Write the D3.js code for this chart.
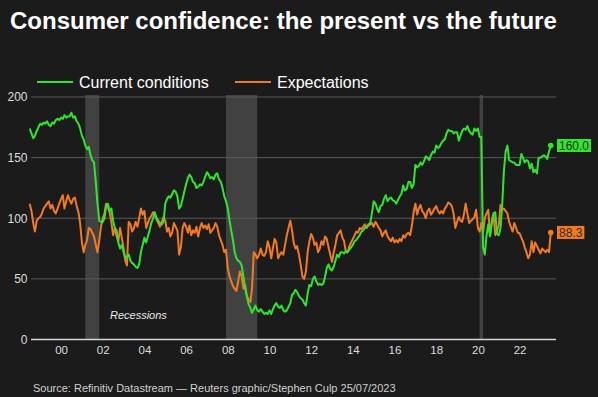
<!DOCTYPE html>
<html>
<head>
<meta charset="utf-8">
<script src="https://cdn.jsdelivr.net/npm/d3@7"></script>
<style>
  html, body { margin: 0; padding: 0; background: #1b1b1b; }
  svg { display: block; }
</style>
</head>
<body>
<svg id="chart" width="598" height="397"></svg>
<script>
// ---------- DATA ----------
const titleText = "Consumer confidence: the present vs the future";
const sourceText = "Source: Refinitiv Datastream \u2014 Reuters graphic/Stephen Culp 25/07/2023";
const seriesNames = ["Current conditions", "Expectations"];
const firstMonth = "1998-07"; // monthly series, Jul 1998 .. Jul 2023

const currentConditions = [
  // 1998 Jul-Dec
  174, 170, 166, 168, 172, 175,
  // 1999
  178, 177, 179, 178, 180, 177, 176, 179, 178, 181, 182, 181,
  // 2000
  183, 182, 185, 183, 184, 184, 187, 183, 184, 180, 178, 174,
  // 2001
  168, 165, 160, 157, 159, 152, 148, 146, 130, 112, 98, 97,
  // 2002
  97, 100, 110, 112, 106, 108, 98, 92, 90, 80, 75, 78,
  // 2003
  72, 67, 68, 70, 65, 63, 62, 60, 59, 62, 72, 78,
  // 2004
  84, 80, 85, 90, 96, 100, 105, 100, 98, 96, 95, 97,
  // 2005
  112, 116, 118, 117, 120, 123, 122, 118, 108, 110, 116, 122,
  // 2006
  128, 133, 136, 134, 130, 129, 125, 126, 128, 127, 130, 134,
  // 2007
  138, 136, 133, 134, 132, 136, 137, 132, 130, 125, 118, 114,
  // 2008
  108, 98, 90, 82, 72, 67, 65, 64, 61, 52, 42, 35,
  // 2009
  29, 26, 22, 25, 28, 24, 23, 25, 23, 21, 22, 21,
  // 2010
  24, 21, 25, 28, 30, 27, 26, 28, 24, 23, 24, 27,
  // 2011
  30, 37, 38, 41, 39, 36, 34, 33, 30, 28, 38, 45,
  // 2012
  44, 50, 52, 48, 45, 46, 45, 46, 52, 59, 62, 58,
  // 2013
  57, 60, 65, 70, 68, 72, 72, 71, 73, 72, 74, 76,
  // 2014
  78, 81, 82, 84, 86, 89, 90, 92, 93, 95, 96, 104,
  // 2015
  114, 112, 108, 105, 110, 111, 116, 119, 114, 116, 117, 115,
  // 2016
  114, 112, 115, 118, 120, 127, 123, 124, 130, 130, 125, 128,
  // 2017
  144, 142, 143, 146, 144, 147, 151, 150, 148, 152, 155, 154,
  // 2018
  160, 158, 159, 162, 164, 165, 170, 173, 172, 172, 170, 171,
  // 2019
  171, 164, 168, 172, 174, 173, 176, 172, 170, 169, 174, 172,
  // 2020
  174, 167, 167, 76, 70, 86, 95, 85, 98, 104, 105, 87,
  // 2021
  86, 92, 110, 139, 155, 160, 148, 147, 146, 146, 144, 144,
  // 2022
  144, 153, 150, 146, 148, 147, 141, 145, 138, 140, 137, 150,
  // 2023 Jan-Jul
  150, 151, 152, 151, 149, 155, 160.0
];

const expectations = [
  // 1998 Jul-Dec
  112, 106, 96, 89, 98, 100,
  // 1999
  101, 104, 108, 110, 112, 114, 108, 111, 106, 104, 108, 112,
  // 2000
  116, 119, 108, 114, 119, 115, 112, 116, 117, 110, 105, 96,
  // 2001
  80, 72, 78, 82, 92, 91, 88, 85, 78, 72, 82, 93,
  // 2002
  100, 104, 112, 109, 105, 97, 86, 92, 85, 81, 92, 84,
  // 2003
  75, 65, 61, 97, 95, 89, 92, 97, 93, 100, 108, 103,
  // 2004
  106, 92, 96, 100, 102, 105, 103, 99, 96, 93, 97, 101,
  // 2005
  98, 89, 92, 85, 88, 96, 93, 90, 70, 76, 92, 96,
  // 2006
  93, 88, 94, 86, 90, 88, 93, 85, 92, 96, 92, 94,
  // 2007
  91, 95, 88, 90, 92, 96, 93, 86, 82, 78, 72, 74,
  // 2008
  59, 52, 48, 44, 42, 40, 48, 56, 52, 42, 45, 36,
  // 2009
  33, 31, 42, 72, 70, 67, 70, 75, 70, 69, 72, 81,
  // 2010
  76, 67, 75, 83, 80, 67, 70, 72, 70, 78, 86, 92,
  // 2011
  98, 90, 80, 75, 77, 70, 62, 52, 50, 56, 72, 81,
  // 2012
  87, 84, 78, 80, 72, 75, 81, 78, 85, 83, 76, 70,
  // 2013
  64, 72, 78, 86, 88, 90, 84, 81, 72, 72, 77, 80,
  // 2014
  83, 86, 89, 88, 92, 91, 93, 95, 92, 94, 95, 96,
  // 2015
  93, 97, 95, 92, 90, 85, 88, 90, 85, 83, 81, 84,
  // 2016
  80, 82, 80, 83, 81, 86, 84, 87, 88, 86, 94, 105,
  // 2017
  112, 103, 108, 111, 106, 104, 100, 106, 108, 103, 105, 108,
  // 2018
  110, 106, 104, 106, 104, 108, 110, 113, 112, 110, 104, 92,
  // 2019
  97, 101, 98, 97, 103, 112, 104, 96, 98, 99, 101, 107,
  // 2020
  92, 89, 96, 88, 100, 104, 107, 86, 96, 103, 86, 90,
  // 2021
  94, 111, 107, 108, 106, 104, 97, 93, 89, 96, 92, 88,
  // 2022
  87.6, 84, 81, 76, 72, 67, 70, 81, 72, 80, 77, 74,
  // 2023 Jan-Jul
  71, 75, 73.5, 72, 74, 72, 88.3
];

const recessions = [
  ["2001-03", "2001-11"],
  ["2007-12", "2009-06"],
  ["2020-02", "2020-04"]
];
const yTicks = [0, 50, 100, 150, 200];
const xTickYears = [2000, 2002, 2004, 2006, 2008, 2010, 2012, 2014, 2016, 2018, 2020, 2022];
const recessionLabel = "Recessions";

// ---------- SETUP ----------
const parseMonth = d3.timeParse("%Y-%m");
const start = parseMonth(firstMonth);
const dates = currentConditions.map((_, i) => d3.timeMonth.offset(start, i));

const colors = { current: "#2ee62e", expect: "#f47a1f" };
const font = "'Liberation Sans', Arial, sans-serif";

const svg = d3.select("#chart");
svg.append("rect").attr("width", 598).attr("height", 397).attr("fill", "#1b1b1b");

const x = d3.scaleTime()
  .domain([new Date(1998, 6, 1), new Date(2023, 9, 1)])
  .range([29.7, 556]);
const y = d3.scaleLinear().domain([0, 200]).range([339.5, 97]);
const plotLeft = 31, plotRight = 556;

// Title
svg.append("text")
  .attr("x", 10).attr("y", 29)
  .attr("font-family", font).attr("font-weight", "bold").attr("font-size", 24)
  .attr("fill", "#ffffff").text(titleText);

// Legend
const legend = svg.append("g");
[[seriesNames[0], colors.current, 37], [seriesNames[1], colors.expect, 235]].forEach(([name, c, lx]) => {
  legend.append("line").attr("x1", lx).attr("x2", lx + 36).attr("y1", 82).attr("y2", 82)
    .attr("stroke", c).attr("stroke-width", 2);
  legend.append("text").attr("x", lx + 42).attr("y", 87.5)
    .attr("font-family", font).attr("font-size", 16).attr("fill", "#ffffff").text(name);
});

// Recession bands
svg.append("g").selectAll("rect").data(recessions).join("rect")
  .attr("x", d => x(parseMonth(d[0])))
  .attr("width", d => x(parseMonth(d[1])) - x(parseMonth(d[0])))
  .attr("y", y(200) - 2)
  .attr("height", y(0) - y(200) + 2)
  .attr("fill", "rgba(255,255,255,0.17)");

// Grid
svg.append("g").selectAll("line").data(yTicks.filter(v => v > 0)).join("line")
  .attr("x1", plotLeft).attr("x2", plotRight)
  .attr("y1", d => y(d)).attr("y2", d => y(d))
  .attr("stroke", "#5a5a5a").attr("stroke-width", 1);

// Y axis labels
const yAxis = d3.axisLeft(y).tickValues(yTicks).tickSize(0).tickPadding(3);
const gy = svg.append("g").attr("transform", `translate(${plotLeft - 0.5},0)`).call(yAxis);
gy.select(".domain").remove();
gy.selectAll("text").attr("font-family", font).attr("font-size", 12).attr("fill", "#dddddd");

// X axis
const xAxis = d3.axisBottom(x)
  .tickValues(xTickYears.map(yr => new Date(yr, 0, 1)))
  .tickFormat(d3.timeFormat("%y")).tickSize(0).tickPadding(6);
const gx = svg.append("g").attr("transform", `translate(0,${y(0)})`).call(xAxis);
gx.select(".domain").remove();
gx.selectAll("text").attr("font-family", font).attr("font-size", 11.5).attr("fill", "#dddddd");

// Zero line
svg.append("line").attr("x1", plotLeft).attr("x2", plotRight)
  .attr("y1", y(0)).attr("y2", y(0)).attr("stroke", "#d8d8d8").attr("stroke-width", 1.5);

// Recession label
svg.append("text").attr("x", 110).attr("y", 319)
  .attr("font-family", font).attr("font-style", "italic").attr("font-size", 11)
  .attr("fill", "#e8e8e8").text(recessionLabel);

// Lines
const line = d3.line().x((d, i) => x(dates[i])).y(d => y(d));
svg.append("path").datum(expectations).attr("d", line)
  .attr("fill", "none").attr("stroke", colors.expect).attr("stroke-width", 2).attr("stroke-linejoin", "round");
svg.append("path").datum(currentConditions).attr("d", line)
  .attr("fill", "none").attr("stroke", colors.current).attr("stroke-width", 2).attr("stroke-linejoin", "round");

// End markers + labels
[[currentConditions, colors.current], [expectations, colors.expect]].forEach(([arr, c]) => {
  const i = arr.length - 1;
  const cx = x(dates[i]), cy = y(arr[i]);
  svg.append("circle").attr("cx", cx).attr("cy", cy).attr("r", 2.8).attr("fill", c);
  const label = d3.format(".1f")(arr[i]);
  const g = svg.append("g");
  const t = g.append("text").attr("x", 559).attr("y", cy + 4.2)
    .attr("font-family", font).attr("font-size", 12).attr("fill", "#2a2a2a").text(label);
  const w = t.node().getComputedTextLength();
  g.insert("rect", "text").attr("x", 557).attr("y", cy - 6.5).attr("width", w + 4).attr("height", 13).attr("fill", c);
});

// Source
svg.append("text").attr("x", 33).attr("y", 392)
  .attr("font-family", font).attr("font-size", 11).attr("fill", "#d0d0d0").text(sourceText);
</script>
</body>
</html>
